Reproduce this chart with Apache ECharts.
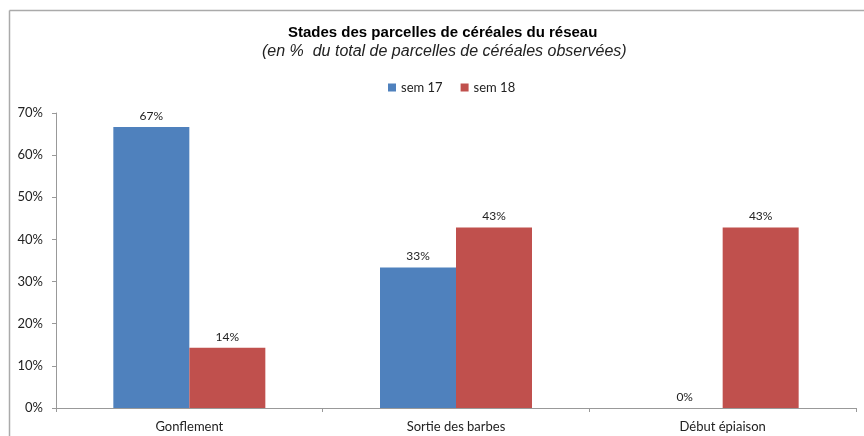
<!DOCTYPE html>
<html><head><meta charset="utf-8">
<script src="https://cdn.jsdelivr.net/npm/echarts@6/dist/echarts.min.js"></script>
<style>html,body{margin:0;padding:0;background:#fff}#c{width:864px;height:436px}</style>
</head><body><div id="c"></div>
<script>
const categories = ['Gonflement', 'Sortie des barbes', 'Début épiaison'];
const sem17 = [66.67, 33.33, 0];
const sem18 = [14.29, 42.86, 42.86];
const seriesNames = ['sem 17', 'sem 18'];
const yTicks = [0, 10, 20, 30, 40, 50, 60, 70];

const chart = echarts.init(document.getElementById('c'), null, {renderer: 'canvas'});
const font = 'Lato, "Liberation Sans", sans-serif';
const lbl = {show: true, position: 'top', distance: 5, color: '#222', fontFamily: font, fontSize: 12,
  formatter: p => Math.round(p.value) + '%'};
chart.setOption({
  animation: false,
  title: [{
    text: 'Stades des parcelles de céréales du réseau',
    left: 283, top: 20,
    textStyle: {fontFamily: '"Liberation Sans", Arial, sans-serif', fontSize: 15, fontWeight: 'bold', color: '#000'}
  }, {
    text: '(en %  du total de parcelles de céréales observées)',
    left: 257, top: 39,
    textStyle: {fontFamily: '"Liberation Sans", Arial, sans-serif', fontSize: 16, fontStyle: 'italic', fontWeight: 'normal', color: '#222'}
  }],
  legend: {
    data: seriesNames, top: 76, left: 383, itemWidth: 8, itemHeight: 8, itemGap: 18,
    icon: 'rect', textStyle: {fontFamily: font, fontSize: 13, color: '#222'}
  },
  graphic: [
    {type: 'line', shape: {x1: 9.5, y1: 10.5, x2: 864, y2: 10.5}, style: {stroke: '#aaa', lineWidth: 1.5}},
    {type: 'line', shape: {x1: 9.5, y1: 10.5, x2: 9.5, y2: 436}, style: {stroke: '#aaa', lineWidth: 1.5}}
  ],
  grid: {left: 56, right: 8, top: 113, bottom: 28, containLabel: false},
  xAxis: {
    type: 'category', data: categories,
    axisLine: {lineStyle: {color: '#999'}},
    axisTick: {show: true, length: 4, lineStyle: {color: '#999'}},
    axisLabel: {fontFamily: font, fontSize: 13, color: '#222', margin: 12}
  },
  yAxis: {
    type: 'value', min: 0, max: 70, interval: 10,
    axisLine: {show: true, lineStyle: {color: '#999'}},
    axisTick: {show: true, length: 4, lineStyle: {color: '#999'}},
    splitLine: {show: false},
    axisLabel: {fontFamily: font, fontSize: 13, color: '#222', margin: 13,
      formatter: v => yTicks.includes(v) ? v + '%' : ''}
  },
  series: [
    {name: seriesNames[0], type: 'bar', data: sem17, barGap: '0%', barCategoryGap: '43%',
     itemStyle: {color: '#4f81bd'}, label: lbl},
    {name: seriesNames[1], type: 'bar', data: sem18, barGap: '0%', barCategoryGap: '43%',
     itemStyle: {color: '#c0504d'}, label: lbl}
  ]
});
</script></body></html>
